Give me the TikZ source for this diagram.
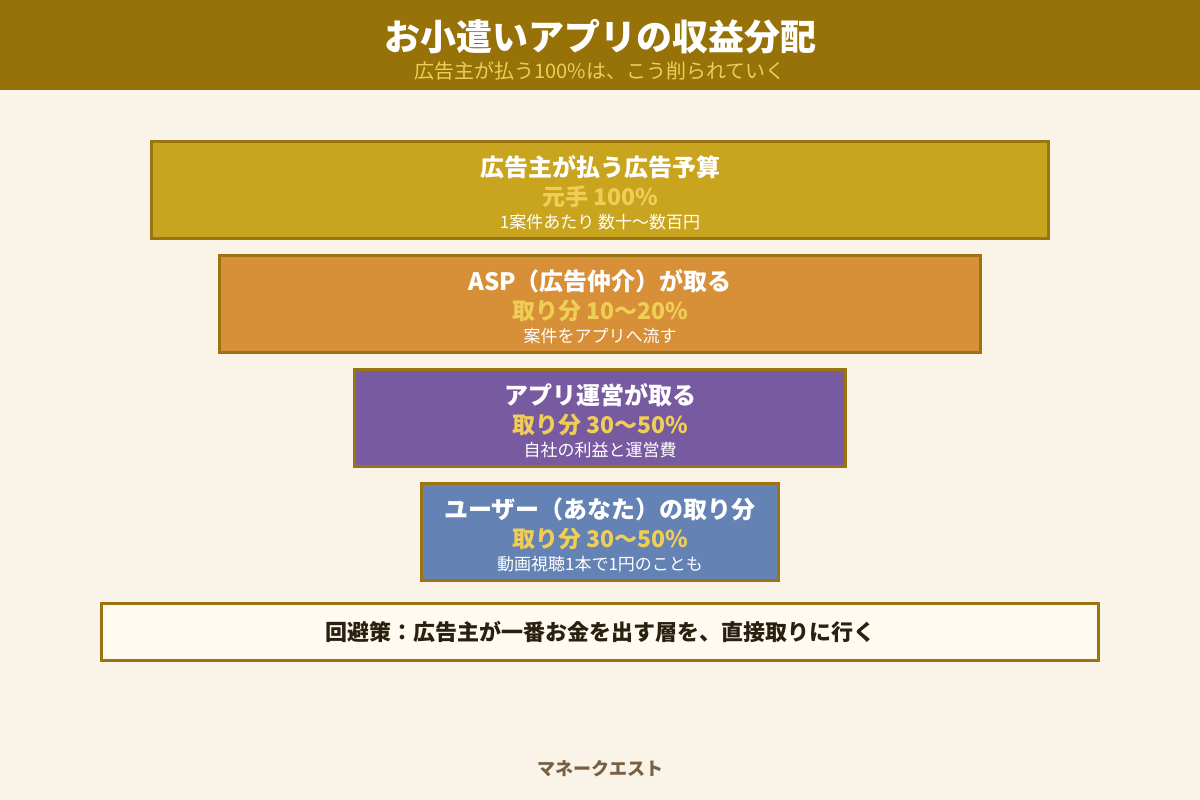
\documentclass[tikz,border=0pt]{standalone}
\usepackage{fontspec}
\setmainfont{Noto Sans CJK JP}
\usepackage{tikz}

\definecolor{paper}{HTML}{FAF3E8}
\definecolor{banner}{HTML}{967208}
\definecolor{frame}{HTML}{9A7410}
\definecolor{gold}{HTML}{F0CE56}
\definecolor{budget}{HTML}{C9A41E}
\definecolor{asp}{HTML}{D89038}
\definecolor{app}{HTML}{785AA0}
\definecolor{user}{HTML}{6482B4}
\definecolor{tip}{HTML}{FFFBF0}
\definecolor{ink}{HTML}{2A2010}
\definecolor{brand}{HTML}{7A6040}

\begin{document}
\begin{tikzpicture}
	[x=1pt,y=-1pt,
		box/.style={draw=frame,line width=3pt,minimum height=97pt,inner sep=0pt},
		head/.style={text=white,inner sep=0pt,font=\bfseries\fontsize{24}{24}\selectfont},
		share/.style={text=gold,inner sep=0pt,font=\bfseries\fontsize{23}{23}\selectfont},
		note/.style={text=white,inner sep=0pt,font=\fontsize{17}{17}\selectfont}]

	\useasboundingbox (0,0) rectangle (1200,800);
	\fill[paper] (0,0) rectangle (1200,800);
	\fill[banner] (0,0) rectangle (1200,90);

	\node[text=white,inner sep=0pt,font=\bfseries\fontsize{36}{36}\selectfont] (title) at (600,37) {お小遣いアプリの収益分配};
	\node[text=gold,inner sep=0pt,font=\fontsize{20}{20}\selectfont] (subtitle) at (600,71) {広告主が払う100\%は、こう削られていく};

	\node[box,fill=budget,minimum width=897pt] (budget) at (600,190) {};
	\node[head]  (budget head)  at (600,167) {広告主が払う広告予算};
	\node[share] (budget share) at (600,197) {元手 100\%};
	\node[note]  (budget note)  at (600,222) {1案件あたり 数十〜数百円};

	\node[box,fill=asp,minimum width=761pt] (asp) at (600,304) {};
	\node[head]  (asp head)  at (600,281) {ASP（広告仲介）が取る};
	\node[share] (asp share) at (600,311) {取り分 10〜20\%};
	\node[note]  (asp note)  at (600,336) {案件をアプリへ流す};

	\node[box,fill=app,minimum width=491pt] (app) at (600,418) {};
	\node[head]  (app head)  at (600,395) {アプリ運営が取る};
	\node[share] (app share) at (600,425) {取り分 30〜50\%};
	\node[note]  (app note)  at (600,450) {自社の利益と運営費};

	\node[box,fill=user,minimum width=357pt] (user) at (600,532) {};
	\node[head]  (user head)  at (600,509) {ユーザー（あなた）の取り分};
	\node[share] (user share) at (600,539) {取り分 30〜50\%};
	\node[note]  (user note)  at (600,564) {動画視聴1本で1円のことも};

	\node[box,fill=tip,minimum width=997pt,minimum height=57pt,text=ink,font=\bfseries\fontsize{22}{22}\selectfont] (tip) at (600,632) {回避策：広告主が一番お金を出す層を、直接取りに行く};

	\node[text=brand,inner sep=0pt,font=\bfseries\fontsize{18}{18}\selectfont] (brand) at (600,769) {マネークエスト};

\end{tikzpicture}
\end{document}
